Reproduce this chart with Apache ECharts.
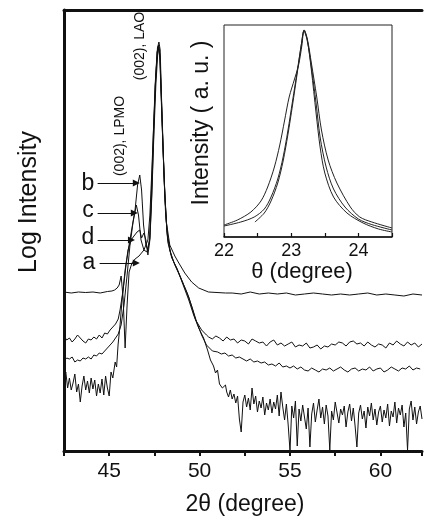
<!DOCTYPE html>
<html><head><meta charset="utf-8">
<script src="https://cdn.jsdelivr.net/npm/echarts@6/dist/echarts.min.js"></script>
<style>html,body{margin:0;padding:0;background:#fff}#c{width:425px;height:521px}</style>
</head><body><div id="c"></div>
<script>
// ---------- main panel data: 2theta (deg) vs log intensity (arb. units) ----------
const xTickLabels = [45, 50, 55, 60];
const insetTickLabels = [22, 23, 24];

// curve a (top, smooth baseline)
const aPts = [[42.5,15.9],[42.9,15.8],[43.3,15.9],[43.7,15.85],[44.1,15.9],[44.5,15.8],[44.9,15.95],[45.15,16.0],[45.3,16.1],[45.44,16.3],[45.55,16.6],[45.66,17.5],[45.77,15.3],[45.88,10.3],[45.99,14.6],[46.1,17.9],[46.26,18.8],[46.43,19.2],[46.65,19.5],[46.92,20.1],[47.14,21.1],[47.25,23.6],[47.36,28.1],[47.47,33.1],[47.58,37.6],[47.67,40.3],[47.75,40.9],[47.82,40.1],[47.88,36.1],[47.97,31.1],[48.05,26.6],[48.16,22.9],[48.35,20.6],[48.63,19.5],[48.85,18.8],[49.18,17.8],[49.56,16.9],[49.95,16.3],[50.49,15.9],[51.43,15.8]];
const aTailStart = 51.8, aTailStep = 0.5;
const aTail = [15.8,15.7,15.9,15.7,15.8,15.7,15.8,15.6,15.7,15.8,15.7,15.6,15.7,15.6,15.7,15.8,15.6,15.7,15.6,15.5,15.7,15.6];

// curve b
const bLeftStart = 42.5, bLeftStep = 0.15;
const bLeft = [11.5,11.1,11.3,10.9,11.2,11.6,11.3,11.0,10.8,11.2,11.1,11.4,11.2,11.6,11.3,11.8,11.7,12.1,12.4,12.7,13.2];
const bPts = [[45.6,14.1],[45.77,16.1],[45.93,18.6],[46.1,20.6],[46.26,22.3],[46.43,24.1],[46.57,26.6],[46.69,27.6],[46.79,26.1],[46.9,22.6],[47.03,20.6],[47.14,20.1],[47.25,21.3],[47.34,25.1],[47.45,31.1],[47.55,36.6],[47.66,39.9],[47.73,40.6],[47.8,39.6],[47.88,35.6],[47.97,30.6],[48.08,25.6],[48.19,22.1],[48.35,20.1],[48.57,18.9],[48.85,17.8],[49.12,16.6],[49.4,15.4],[49.62,14.1],[49.78,13.1],[50.11,12.1],[50.38,11.6]];
const bRightStart = 50.5, bRightStep = 0.2;
const bRight = [11.4,11.2,11.5,11.3,11.0,11.4,11.1,11.2,10.8,11.1,
  11.0,10.7,11.2,11.0,10.8,10.9,10.5,10.9,11.1,10.6,
  10.8,10.5,10.7,10.9,10.4,10.6,10.5,10.8,10.3,10.4,
  10.6,10.2,10.5,10.4,10.7,10.6,10.9,10.8,10.5,10.9,
  11.0,10.7,10.8,10.5,10.9,10.6,10.4,10.7,10.6,10.3,
  10.8,10.6,11.0,10.7,10.5,10.9,10.6,10.8,10.4,10.7];

// curve c
const cLeftStart = 42.5, cLeftStep = 0.15;
const cLeft = [9.0,9.3,9.2,9.4,8.9,9.1,9.0,9.3,9.2,9.4,9.2,9.6,9.5,9.8,9.7,10.0,10.3,10.6,10.9,11.3,11.7];
const cPts = [[45.66,12.6],[45.82,14.6],[45.99,17.6],[46.15,20.6],[46.32,22.9],[46.5,24.6],[46.62,23.6],[46.76,21.1],[46.92,20.1],[47.09,19.9],[47.23,21.1],[47.32,25.1],[47.43,31.1],[47.54,36.6],[47.65,39.9],[47.72,40.5],[47.8,39.3],[47.88,35.1],[47.98,30.1],[48.09,25.1],[48.21,21.6],[48.41,19.7],[48.63,18.6],[48.96,17.3],[49.29,15.9],[49.56,14.5],[49.84,12.9],[50.11,11.6],[50.38,10.6],[50.71,10.0]];
const cRightStart = 51.0, cRightStep = 0.2;
const cRight = [9.9,9.7,9.8,9.5,9.6,9.3,9.4,9.2,9.0,9.2,
  8.9,9.0,8.8,8.9,8.6,8.7,8.5,8.8,8.4,8.5,
  8.3,8.5,8.2,8.4,8.1,8.0,8.3,8.1,7.9,8.2,
  8.1,8.3,8.0,8.2,8.4,8.1,7.9,8.2,8.3,8.0,
  8.2,8.1,8.4,8.0,8.2,8.3,7.9,8.1,8.4,8.2,
  8.0,8.3,8.2,8.5,8.1,8.3,8.2];

// curve d (bottom, noisy)
const dLeftStart = 42.5, dLeftStep = 0.1;
const dLeft = [7.1,7.9,6.3,7.3,6.1,6.8,7.7,5.9,6.7,4.9,6.5,7.5,6.1,7.0,5.8,7.3,6.2,7.1,5.5,6.7,5.8,7.2,5.6,7.5,6.3,5.5,7.9,7.3];
const dPts = [[45.33,8.9],[45.41,8.4],[45.49,10.6],[45.6,12.6],[45.71,15.1],[45.88,18.1],[46.04,20.1],[46.21,21.1],[46.37,21.5],[46.54,21.9],[46.69,22.1],[46.79,21.3],[46.92,21.8],[47.03,21.1],[47.14,19.6],[47.25,21.1],[47.36,25.6],[47.47,31.6],[47.58,36.6],[47.68,39.6],[47.75,40.4],[47.82,39.1],[47.9,34.6],[48.0,29.1],[48.11,24.1],[48.24,20.9],[48.46,19.3],[48.74,18.3],[49.07,16.7],[49.4,15.1],[49.67,13.6],[49.95,12.3],[50.22,11.3],[50.44,10.1],[50.6,9.1],[50.77,8.5],[50.88,7.8],[50.99,8.1],[51.1,6.7],[51.26,6.3],[51.43,6.6]];
const dRightStart = 51.5, dRightStep = 0.1;
const dRight = [5.9,5.4,6.1,5.2,5.7,4.8,5.5,3.2,1.9,4.9,
  5.6,4.4,5.3,4.1,6.3,4.7,5.5,3.9,5.0,4.3,
  5.4,3.6,4.8,4.1,5.2,3.8,4.9,4.2,5.6,3.5,
  5.9,4.4,3.1,4.7,2.6,0.0,4.5,3.3,5.0,0.5,
  4.2,3.0,4.6,3.4,2.2,4.3,0.4,3.7,4.8,2.9,
  4.1,5.2,3.3,4.4,2.7,4.6,3.5,0.1,4.0,3.1,
  4.9,5.0,2.8,4.2,3.6,4.5,2.4,3.9,4.7,3.0,
  4.3,2.5,0.4,3.8,4.6,3.2,4.0,2.3,4.4,3.5,
  4.8,3.1,4.2,2.6,3.9,4.5,2.9,4.1,3.3,4.7,
  2.5,4.0,3.4,4.9,2.8,4.3,3.6,4.6,2.4,3.8,
  0.1,4.2,5.0,3.1,4.4,2.7,3.9,4.5,3.2];

// ---------- inset data: theta (deg) vs intensity (a.u.) ----------
const insetA = [[22.0,0.06],[22.2,0.085],[22.4,0.125],[22.55,0.18],[22.65,0.25],[22.75,0.35],[22.83,0.46],[22.9,0.58],[22.97,0.70],[23.05,0.79],[23.11,0.86],[23.16,0.96],[23.19,1.035],[23.24,0.99],[23.3,0.87],[23.38,0.70],[23.45,0.535],[23.55,0.385],[23.68,0.27],[23.88,0.15],[24.02,0.10],[24.2,0.075],[24.5,0.045]];
const insetB = [[22.0,0.055],[22.25,0.075],[22.45,0.10],[22.6,0.14],[22.7,0.2],[22.8,0.29],[22.88,0.40],[22.95,0.53],[23.02,0.68],[23.09,0.83],[23.15,0.96],[23.19,1.03],[23.24,0.98],[23.3,0.85],[23.37,0.67],[23.43,0.50],[23.52,0.35],[23.63,0.24],[23.8,0.15],[24.0,0.09],[24.2,0.062],[24.5,0.035]];
const insetC = [[22.46,0.075],[22.6,0.12],[22.7,0.18],[22.8,0.27],[22.88,0.38],[22.95,0.51],[23.02,0.66],[23.09,0.82],[23.15,0.96],[23.195,1.035],[23.24,0.985],[23.3,0.835],[23.37,0.62],[23.43,0.45],[23.5,0.32],[23.63,0.20],[23.83,0.12],[24.07,0.07],[24.3,0.04],[24.5,0.025]];

// sample arrows (label, from [2theta, logI], to [2theta, logI])
const arrowLabels = ['b','c','d','a'];
const arrowFrom = [[44.36,26.8],[44.36,23.8],[44.36,21.1],[44.47,18.8]];
const arrowTo   = [[46.5,26.8],[46.39,23.8],[46.23,21.1],[46.5,18.8]];

function seg(start, step, vals){ return vals.map((v,i)=>[+(start+i*step).toFixed(3), v]); }
const curveA = aPts.concat(seg(aTailStart, aTailStep, aTail));
const curveB = seg(bLeftStart, bLeftStep, bLeft).concat(bPts, seg(bRightStart, bRightStep, bRight));
const curveC = seg(cLeftStart, cLeftStep, cLeft).concat(cPts, seg(cRightStart, cRightStep, cRight));
const curveD = seg(dLeftStart, dLeftStep, dLeft).concat(dPts, seg(dRightStart, dRightStep, dRight));

const FONT = "'Liberation Sans', Arial, sans-serif";
const chart = echarts.init(document.getElementById('c'), null, {renderer:'canvas'});

function mainLine(name, data, extra){
  return Object.assign({type:'line', name, data, xAxisIndex:0, yAxisIndex:0, symbol:'none',
    lineStyle:{color:'#111', width:1}, silent:true, animation:false, z:3}, extra||{});
}
function insetLine(name, data){
  return {type:'line', name, data, xAxisIndex:2, yAxisIndex:1, symbol:'none', smooth:0.3,
    lineStyle:{color:'#222', width:1}, silent:true, animation:false};
}

const option = {
  animation:false,
  backgroundColor:'#fff',
  textStyle:{fontFamily:FONT, color:'#111'},
  grid:[
    {left:64, top:10, right:0, bottom:70, show:false},
    {left:224, top:25, width:168, height:212, show:true, borderColor:'#222', borderWidth:1}
  ],
  xAxis:[
    {type:'value', gridIndex:0, min:42.5, max:62.3, interval:2.5,
     axisLine:{show:true, lineStyle:{color:'#111', width:3}},
     axisTick:{show:true, length:5, lineStyle:{color:'#111', width:2}},
     axisLabel:{fontSize:21, color:'#111', margin:10, fontFamily:FONT,
       formatter:v=> xTickLabels.indexOf(Math.round(v*10)/10) >= 0 ? String(v) : ''},
     splitLine:{show:false}},
    {type:'value', gridIndex:0, position:'top', min:42.5, max:62.3,
     axisLine:{show:true, lineStyle:{color:'#111', width:3}},
     axisTick:{show:false}, axisLabel:{show:false}, splitLine:{show:false}},
    {type:'value', gridIndex:1, min:22, max:24.5, interval:0.5,
     axisLine:{show:true, lineStyle:{color:'#111', width:1.5}},
     axisTick:{show:true, inside:true, length:4, lineStyle:{color:'#111', width:1.2}},
     axisLabel:{fontSize:18, color:'#111', margin:5, fontFamily:FONT,
       formatter:v=> insetTickLabels.indexOf(Math.round(v*10)/10) >= 0 ? String(v) : ''},
     splitLine:{show:false}}
  ],
  yAxis:[
    {type:'value', gridIndex:0, min:0, max:44.1,
     axisLine:{show:true, lineStyle:{color:'#111', width:3}},
     axisTick:{show:false}, axisLabel:{show:false}, splitLine:{show:false}},
    {type:'value', gridIndex:1, min:0, max:1.06,
     axisLine:{show:false}, axisTick:{show:false}, axisLabel:{show:false}, splitLine:{show:false}}
  ],
  series:[
    mainLine('a', curveA, {markLine:{silent:true, symbol:['none','triangle'], symbolSize:7,
      lineStyle:{color:'#111', width:1, type:'solid'}, label:{show:false}, animation:false,
      data: arrowLabels.map((l,i)=>[{name:l, coord:arrowFrom[i]},{coord:arrowTo[i]}])}}),
    mainLine('b', curveB),
    mainLine('c', curveC),
    mainLine('d', curveD),
    insetLine('A', insetA),
    insetLine('B', insetB),
    insetLine('C', insetC)
  ],
  graphic:[
    {type:'text', x:29, y:202, rotation:Math.PI/2, style:{text:'Log Intensity', font:"25px "+FONT, fill:'#111', align:'center', verticalAlign:'middle'}},
    {type:'text', x:245, y:505, style:{text:'2θ (degree)', font:"23px "+FONT, fill:'#111', align:'center', verticalAlign:'middle'}},
    {type:'text', x:202, y:123, rotation:Math.PI/2, style:{text:'Intensity ( a. u. )', font:"23px "+FONT, fill:'#111', align:'center', verticalAlign:'middle'}},
    {type:'text', x:302, y:272, style:{text:'θ (degree)', font:"22px "+FONT, fill:'#111', align:'center', verticalAlign:'middle'}},
    {type:'text', x:120, y:136, rotation:Math.PI/2, style:{text:'(002), LPMO', font:"14px "+FONT, fill:'#111', align:'center', verticalAlign:'middle'}},
    {type:'text', x:140, y:46, rotation:Math.PI/2, style:{text:'(002), LAO', font:"14px "+FONT, fill:'#111', align:'center', verticalAlign:'middle'}},
    {type:'text', x:88, y:184, style:{text:'b', font:"23px "+FONT, fill:'#111', align:'center', verticalAlign:'middle'}},
    {type:'text', x:88, y:211, style:{text:'c', font:"23px "+FONT, fill:'#111', align:'center', verticalAlign:'middle'}},
    {type:'text', x:88, y:238, style:{text:'d', font:"23px "+FONT, fill:'#111', align:'center', verticalAlign:'middle'}},
    {type:'text', x:89, y:263, style:{text:'a', font:"23px "+FONT, fill:'#111', align:'center', verticalAlign:'middle'}}
  ]
};
chart.setOption(option);
</script></body></html>
